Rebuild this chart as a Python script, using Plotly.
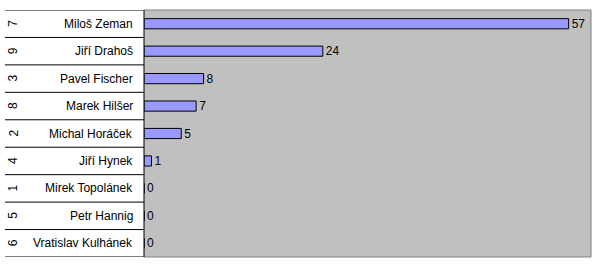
import plotly.graph_objects as go

codes = ["7", "9", "3", "8", "2", "4", "1", "5", "6"]
names = ["Miloš Zeman", "Jiří Drahoš", "Pavel Fischer", "Marek Hilšer", "Michal Horáček",
         "Jiří Hynek", "Mirek Topolánek", "Petr Hannig", "Vratislav Kulhánek"]
values = [57, 24, 8, 7, 5, 1, 0, 0, 0]

W, H = 600, 266
L, R, T, B = 144, 9, 10, 9
pw = W - L - R
n = len(names)

fig = go.Figure()
fig.add_trace(go.Bar(
    x=values, y=list(range(n)), orientation="h",
    marker=dict(color="#9999FF", line=dict(color="black", width=1)),
    width=0.37,
    text=[str(v) for v in values], textposition="outside", constraintext="none",
    textfont=dict(family="Liberation Sans, Arial", size=12, color="black"),
    cliponaxis=False, hoverinfo="skip",
))

shapes = []
# table lines on left
for i in range(n + 1):
    shapes.append(dict(type="line", xref="paper", yref="y",
                       x0=-(L - 5) / pw, x1=0, y0=i - 0.5, y1=i - 0.5,
                       line=dict(color="black", width=1)))
# plot frame
shapes.append(dict(type="line", xref="paper", yref="paper", x0=0, x1=1, y0=1, y1=1,
                   line=dict(color="#808080", width=1)))
shapes.append(dict(type="line", xref="paper", yref="paper", x0=1, x1=1, y0=0, y1=1,
                   line=dict(color="#808080", width=1)))
shapes.append(dict(type="line", xref="paper", yref="paper", x0=0, x1=1, y0=0, y1=0,
                   line=dict(color="#808080", width=1)))
shapes.append(dict(type="line", xref="paper", yref="paper", x0=0, x1=0, y0=0, y1=1,
                   line=dict(color="black", width=1)))

annotations = []
for i, (c, nm) in enumerate(zip(codes, names)):
    annotations.append(dict(xref="paper", yref="y", x=-9 / pw, y=i, text=nm,
                            showarrow=False, xanchor="right", yanchor="middle",
                            font=dict(family="Liberation Sans, Arial", size=12, color="black")))
    annotations.append(dict(xref="paper", yref="y", x=-(L - 13) / pw, y=i, text=c,
                            showarrow=False, xanchor="center", yanchor="middle", textangle=-90,
                            font=dict(family="Liberation Sans, Arial", size=12, color="black")))

fig.update_layout(
    width=W, height=H,
    margin=dict(l=L, r=R, t=T, b=B, pad=0),
    paper_bgcolor="white", plot_bgcolor="#C0C0C0",
    showlegend=False,
    xaxis=dict(range=[0, 60], showgrid=False, zeroline=False, showticklabels=False,
               ticks="", fixedrange=True),
    yaxis=dict(range=[n - 0.5, -0.5], showgrid=False, zeroline=False, showticklabels=False,
               ticks="", fixedrange=True),
    shapes=shapes, annotations=annotations,
)

fig.write_html("out.html")
